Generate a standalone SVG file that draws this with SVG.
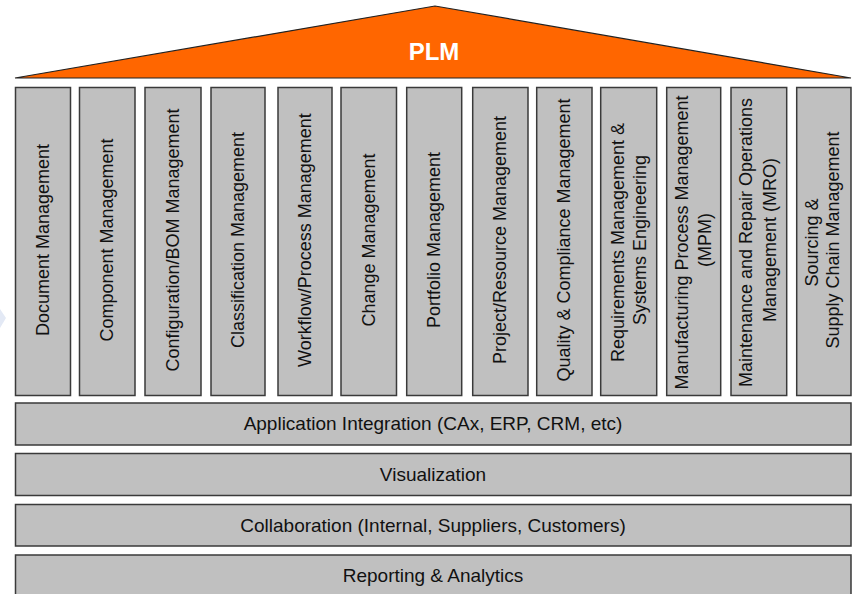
<svg xmlns="http://www.w3.org/2000/svg" width="852" height="594" viewBox="0 0 852 594">
  <style>
    .box { fill: #c0c0c0; stroke: #3a3a3a; stroke-width: 1.5; }
    .lbl { font-family: "Liberation Sans", Arial, sans-serif; font-size: 18px; fill: #111; text-anchor: middle; }
    .bar { font-family: "Liberation Sans", Arial, sans-serif; font-size: 19px; fill: #111; text-anchor: middle; }
    .roof { fill: #ff6600; stroke: #222; stroke-width: 1.2; stroke-linejoin: miter; }
    .plm { font-family: "Liberation Sans", Arial, sans-serif; font-size: 24px; font-weight: bold; fill: #ffffff; text-anchor: middle; }
  </style>
  <rect x="0" y="0" width="852" height="594" fill="#ffffff"/>
  <polygon points="0,309 6,318 0,328" fill="#e3e9f5"/>

  <g id="roof">
    <polygon class="roof" points="15,78 435,6 851,78"/>
    <text class="plm" x="434" y="60">PLM</text>
  </g>

  <g id="col-document"><rect class="box" x="15.5" y="87.5" width="55" height="308"/>
    <text class="lbl" transform="translate(43,240) rotate(-90)" x="0" y="6">Document Management</text></g>
  <g id="col-component"><rect class="box" x="79.5" y="87.5" width="55.5" height="308"/>
    <text class="lbl" transform="translate(107,240) rotate(-90)" x="0" y="6">Component Management</text></g>
  <g id="col-configuration"><rect class="box" x="145" y="87.5" width="56" height="308"/>
    <text class="lbl" transform="translate(173,240) rotate(-90)" x="0" y="6">Configuration/BOM Management</text></g>
  <g id="col-classification"><rect class="box" x="211" y="87.5" width="54" height="308"/>
    <text class="lbl" transform="translate(238,240) rotate(-90)" x="0" y="6">Classification Management</text></g>
  <g id="col-workflow"><rect class="box" x="278" y="87.5" width="54" height="308"/>
    <text class="lbl" transform="translate(305,240) rotate(-90)" x="0" y="6">Workflow/Process Management</text></g>
  <g id="col-change"><rect class="box" x="341" y="87.5" width="55.5" height="308"/>
    <text class="lbl" transform="translate(368.7,240) rotate(-90)" x="0" y="6">Change Management</text></g>
  <g id="col-portfolio"><rect class="box" x="406.7" y="87.5" width="55" height="308"/>
    <text class="lbl" transform="translate(434.2,240) rotate(-90)" x="0" y="6">Portfolio Management</text></g>
  <g id="col-project"><rect class="box" x="472.7" y="87.5" width="55.3" height="308"/>
    <text class="lbl" transform="translate(500.3,240) rotate(-90)" x="0" y="6">Project/Resource Management</text></g>
  <g id="col-quality"><rect class="box" x="536.7" y="87.5" width="55.3" height="308"/>
    <text class="lbl" transform="translate(564.3,240) rotate(-90)" x="0" y="6">Quality &amp; Compliance Management</text></g>
  <g id="col-requirements"><rect class="box" x="600.7" y="87.5" width="56" height="308"/>
    <text class="lbl" transform="translate(628.7,240) rotate(-90)">
      <tspan x="0" y="-5">Requirements Management &amp;</tspan>
      <tspan x="0" y="17">Systems Engineering</tspan></text></g>
  <g id="col-manufacturing"><rect class="box" x="666.7" y="87.5" width="54" height="308"/>
    <text class="lbl" transform="translate(693.7,240) rotate(-90)">
      <tspan x="0" y="-5.5">Manufacturing Process Management</tspan>
      <tspan x="0" y="17">(MPM)</tspan></text></g>
  <g id="col-mro"><rect class="box" x="731" y="87.5" width="55.7" height="308"/>
    <text class="lbl" transform="translate(758.8,240) rotate(-90)">
      <tspan x="0" y="-6.5">Maintenance and Repair Operations</tspan>
      <tspan x="0" y="17">Management (MRO)</tspan></text></g>
  <g id="col-sourcing"><rect class="box" x="796.7" y="87.5" width="54.3" height="308"/>
    <text class="lbl" transform="translate(823.8,240) rotate(-90)">
      <tspan x="0" y="-6">Sourcing &amp;</tspan>
      <tspan x="0" y="15">Supply Chain Management</tspan></text></g>

  <g id="bar-integration"><rect class="box" x="15.5" y="403" width="835.5" height="42"/>
    <text class="bar" x="433" y="430">Application Integration (CAx, ERP, CRM, etc)</text></g>
  <g id="bar-visualization"><rect class="box" x="15.5" y="453.5" width="835.5" height="42"/>
    <text class="bar" x="433" y="481">Visualization</text></g>
  <g id="bar-collaboration"><rect class="box" x="15.5" y="504.5" width="835.5" height="41.5"/>
    <text class="bar" x="433" y="531.5">Collaboration (Internal, Suppliers, Customers)</text></g>
  <g id="bar-reporting"><rect class="box" x="15.5" y="555" width="835.5" height="45"/>
    <text class="bar" x="433" y="582">Reporting &amp; Analytics</text></g>

  <g id="connectors"></g>
</svg>
